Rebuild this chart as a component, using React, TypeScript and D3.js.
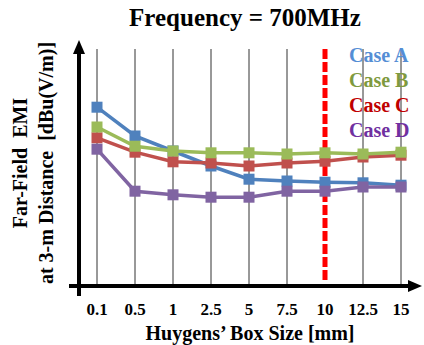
import React from 'react';
import * as d3 from 'd3';

// Huygens' box sizes (mm) and far-field EMI (arbitrary dB units, no tick values on the axis)
const boxSizes = ['0.1', '0.5', '1', '2.5', '5', '7.5', '10', '12.5', '15'];
const caseA = [29.8, 25.0, 22.5, 20.0, 17.8, 17.5, 17.3, 17.2, 16.8];
const caseB = [26.5, 23.3, 22.5, 22.2, 22.2, 22.0, 22.2, 22.0, 22.3];
const caseC = [24.7, 22.3, 20.7, 20.5, 20.0, 20.5, 20.8, 21.5, 21.8];
const caseD = [22.8, 15.8, 15.2, 14.8, 14.8, 15.8, 15.8, 16.5, 16.5];
const caseNames = ['Case A', 'Case B', 'Case C', 'Case D'];
const markedSize = '10';

const W = 424;
const H = 345;
const font = '"Liberation Serif", "DejaVu Serif", serif';

const series = [
  { name: caseNames[0], values: caseA, color: '#4f81bd', text: '#558ed5' },
  { name: caseNames[1], values: caseB, color: '#9bbb59', text: '#7f9a3e' },
  { name: caseNames[2], values: caseC, color: '#c0504d', text: '#c00000' },
  { name: caseNames[3], values: caseD, color: '#8064a2', text: '#7030a0' },
];
// green is drawn last so it sits on top, like the original
const drawOrder = [0, 2, 3, 1];

const txt = (size: number): React.CSSProperties => ({
  fontFamily: font,
  fontWeight: 'bold',
  fontSize: size,
  whiteSpace: 'pre',
});

export default function App() {
  const x = d3.scalePoint<string>().domain(boxSizes).range([97, 401]);
  const y = d3.scaleLinear().domain([0, 40]).range([286, 46]);
  const line = d3.line<number>()
    .x((_, i) => x(boxSizes[i]) as number)
    .y(d => y(d));

  const axisY = 286;
  const axisX = 79;
  const m = 11;

  return (
    <svg width={W} height={H} style={{ position: 'absolute', left: 0, top: 0, background: '#fff' }}>
      <text x={245} y={26} textAnchor="middle" style={txt(25)}>
        Frequency = 700MHz
      </text>

      {/* vertical grid */}
      {boxSizes.filter(d => d !== markedSize).map(d => (
        <line key={d} x1={x(d)} x2={x(d)} y1={49} y2={axisY} stroke="#333" strokeWidth={1} />
      ))}
      <line x1={x(markedSize)} x2={x(markedSize)} y1={49} y2={axisY - 3}
        stroke="#ff0000" strokeWidth={5} strokeDasharray="10 3" />

      {/* series */}
      {drawOrder.map(k => series[k]).map(s => (
        <g key={s.name}>
          <path d={line(s.values) || ''} fill="none" stroke={s.color} strokeWidth={3.5} />
          {s.values.map((v, i) => (
            <rect key={i} x={(x(boxSizes[i]) as number) - m / 2} y={y(v) - m / 2} width={m} height={m} fill={s.color} />
          ))}
        </g>
      ))}

      {/* axes with arrows */}
      <line x1={axisX} x2={axisX} y1={52} y2={296} stroke="#000" strokeWidth={4} />
      <path d={`M${axisX - 6},${54} L${axisX},${40} L${axisX + 6},${54} Z`} fill="#000" />
      <line x1={69} x2={410} y1={axisY} y2={axisY} stroke="#000" strokeWidth={4} />
      <path d={`M${408},${axisY - 6} L${422},${axisY} L${408},${axisY + 6} Z`} fill="#000" />

      {/* x tick labels */}
      {boxSizes.map(d => (
        <text key={d} x={x(d)} y={315} textAnchor="middle" style={txt(17)}>
          {d}
        </text>
      ))}
      <text x={250} y={340} textAnchor="middle" style={txt(20)}>
        Huygens’ Box Size [mm]
      </text>

      {/* y title */}
      <g transform="translate(0,163) rotate(-90)">
        <text x={0} y={27} textAnchor="middle" style={txt(20)}>
          Far-Field  EMI
        </text>
        <text x={0} y={53} textAnchor="middle" style={txt(20)}>
          at 3-m Distance  [dBu(V/m)]
        </text>
      </g>

      {/* legend */}
      {series.map((s, i) => (
        <text key={s.name} x={349} y={62 + i * 25} style={{ ...txt(20), fill: s.text }}>
          {s.name}
        </text>
      ))}
    </svg>
  );
}
